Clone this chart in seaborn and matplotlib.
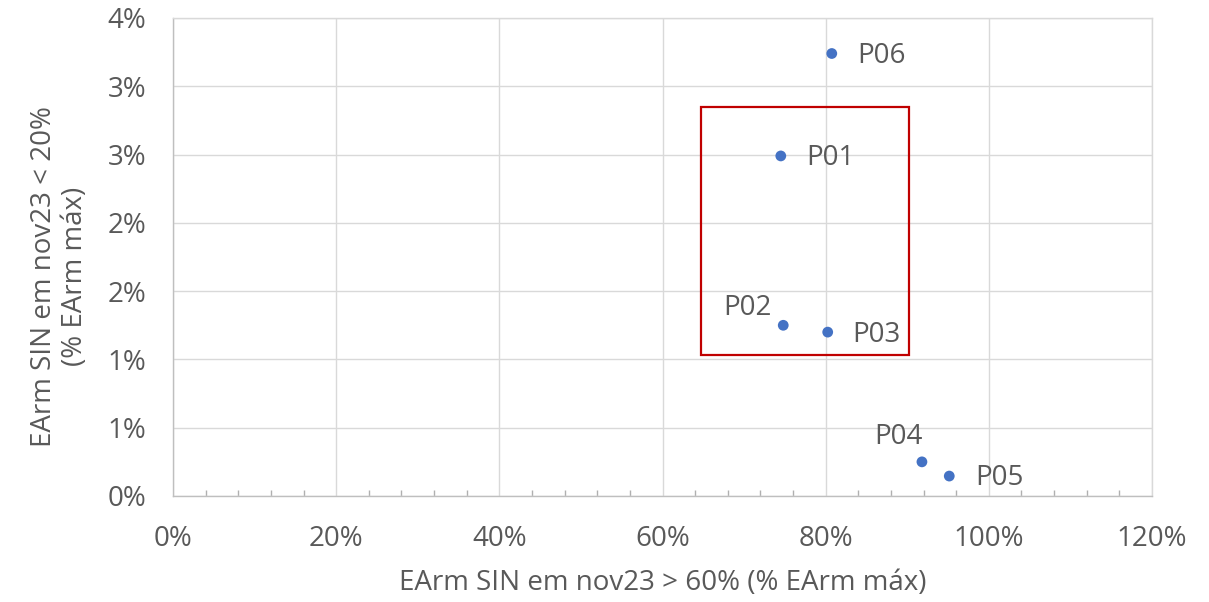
import matplotlib
matplotlib.use("Agg")
import matplotlib.pyplot as plt
from matplotlib.patches import Rectangle
from matplotlib.ticker import MultipleLocator
import seaborn as sns
import pandas as pd

# Storage points (% of maximum stored energy)
labels = ["P01", "P02", "P03", "P04", "P05", "P06"]
earm_above_60 = [74.5, 74.8, 80.25, 91.8, 95.15, 80.75]   # x, %
earm_below_20 = [2.49, 1.25, 1.20, 0.25, 0.146, 3.24]      # y, %

x_ticks = [0, 20, 40, 60, 80, 100, 120]
x_tick_labels = ["0%", "20%", "40%", "60%", "80%", "100%", "120%"]
y_ticks = [0, 0.5, 1.0, 1.5, 2.0, 2.5, 3.0, 3.5]
y_tick_labels = ["0%", "1%", "1%", "2%", "2%", "3%", "3%", "4%"]

# Highlighted region (x range, y range)
box_x = [64.7, 90.25]
box_y = [1.03, 2.85]

x_title = "EArm SIN em nov23 > 60% (% EArm máx)"
y_title = "EArm SIN em nov23 < 20%\n(% EArm máx)"

# label offsets in pixels and alignment for each point
label_style = {
    "P01": ((25, -2), "left", "center"),
    "P02": ((-12, 17), "right", "center"),
    "P03": ((25, -3), "left", "center"),
    "P04": ((1, 25), "right", "center"),
    "P05": ((26, -2), "left", "center"),
    "P06": ((25, -2), "left", "center"),
}

df = pd.DataFrame({"label": labels, "x": earm_above_60, "y": earm_below_20})

sns.set_theme(style="white")
plt.rcParams["font.family"] = ["Open Sans", "DejaVu Sans"]

text_color = "#595959"
grid_color = "#D9D9D9"
dot_color = "#4472C4"
fs = 20

fig = plt.figure(figsize=(12.09, 6.02), dpi=100)
ax = fig.add_axes([173 / 1209, 1 - 496 / 602, 979 / 1209, 478 / 602])

sns.scatterplot(data=df, x="x", y="y", ax=ax, color=dot_color, s=60,
                edgecolor="none", zorder=3, legend=False)

ax.set_xlim(0, 120)
ax.set_ylim(0, 3.5)
ax.set_xticks(x_ticks)
ax.set_xticklabels(x_tick_labels)
ax.set_yticks(y_ticks)
ax.set_yticklabels(y_tick_labels)
ax.xaxis.set_minor_locator(MultipleLocator(4))

ax.grid(True, which="major", color=grid_color, linewidth=1.0)
ax.set_axisbelow(True)
for side in ["top", "right"]:
    ax.spines[side].set_color(grid_color)
    ax.spines[side].set_linewidth(1.0)
for side in ["left", "bottom"]:
    ax.spines[side].set_color("#BFBFBF")
    ax.spines[side].set_linewidth(1.0)

ax.tick_params(axis="both", which="major", length=0, labelsize=fs,
               labelcolor=text_color)
ax.tick_params(axis="x", which="major", pad=21)
ax.tick_params(axis="y", which="major", pad=19)
ax.tick_params(axis="x", which="minor", direction="in", length=4.5,
               width=1.0, color="#B0B0B0", bottom=True)

ax.set_xlabel(x_title, fontsize=fs, color=text_color)
ax.xaxis.label.set_va("center")
ax.xaxis.set_label_coords(0.5, -0.182)
ax.set_ylabel(y_title, fontsize=fs, color=text_color, linespacing=1.15,
              ha="center", va="center", multialignment="center")
ax.yaxis.set_label_coords(-0.116, 0.46)

for lab, x, y in zip(labels, earm_above_60, earm_below_20):
    (dx, dy), ha, va = label_style[lab]
    ax.annotate(lab, (x, y), xytext=(dx, dy), textcoords="offset pixels",
                ha=ha, va=va, fontsize=fs, color=text_color, zorder=4)

ax.add_patch(Rectangle((box_x[0], box_y[0]), box_x[1] - box_x[0],
                       box_y[1] - box_y[0], fill=False,
                       edgecolor="#C00000", linewidth=1.6, zorder=2))

fig.savefig("out.png", dpi=100, facecolor="white")
